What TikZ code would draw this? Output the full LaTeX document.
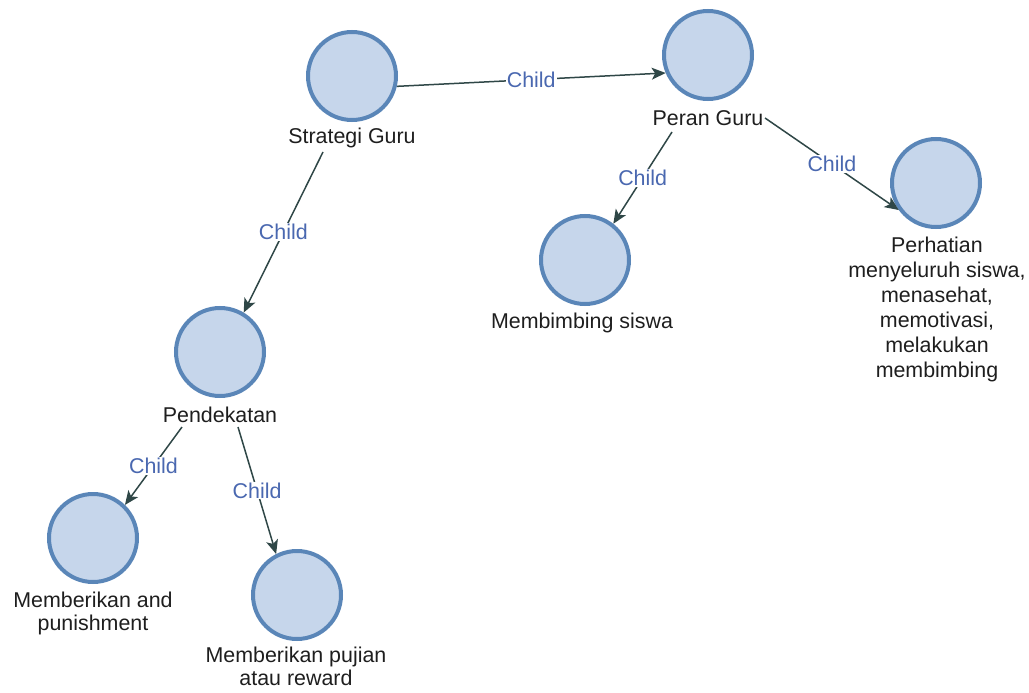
\documentclass[tikz,border=0pt]{standalone}
\usepackage{fontspec}
\setmainfont{Liberation Sans}
\usetikzlibrary{arrows.meta}
\definecolor{cfill}{HTML}{C6D6EB}
\definecolor{cborder}{HTML}{5A86B8}
\definecolor{cline}{HTML}{2F4747}
\definecolor{clabel}{HTML}{4A68B0}
\definecolor{ctext}{HTML}{1E1E1E}
\tikzset{
  topic/.style={circle, draw=cborder, fill=cfill, line width=4pt, minimum size=88pt, inner sep=0pt},
  name1/.style={anchor=base, inner sep=0pt, text=ctext, font=\fontsize{21.4}{23}\selectfont},
  namem/.style={anchor=north, inner sep=0pt, align=center, text=ctext, font=\fontsize{21.4}{23}\selectfont},
  conn/.style={draw=cline, line width=1.5pt, -{Stealth[length=14pt,width=12pt,inset=3.5pt]}},
  lbl/.style={fill=white, inner sep=1pt, text=clabel, font=\fontsize{21.4}{23}\selectfont}
}
\begin{document}
\begin{tikzpicture}[x=1pt,y=-1pt]
\useasboundingbox (0,0) rectangle (1029,693);
% circles
\node[topic] (sg) at (352,76) {};
\node[topic] (pg) at (708,55) {};
\node[topic] (mb) at (585,260) {};
\node[topic] (ph) at (936,183) {};
\node[topic] (pd) at (220,352) {};
\node[topic] (pu) at (93,538) {};
\node[topic] (pj) at (297,595) {};
% names
\node[name1] (sgL) at (352,143) {Strategi Guru};
\node[name1] (pgL) at (708,125) {Peran Guru};
\node[name1] (mbL) at (582,328) {Membimbing siswa};
\node[namem, font=\fontsize{21.4}{25}\selectfont] (phL) at (937,236.5) {Perhatian\\menyeluruh siswa,\\menasehat,\\memotivasi,\\melakukan\\membimbing};
\node[name1] (pdL) at (220,422) {Pendekatan};
\node[namem] (puL) at (93,591.5) {Memberikan and\\punishment};
\node[namem] (pjL) at (296,646.5) {Memberikan pujian\\atau reward};
% connector start points below the names
\coordinate (s2) at (323,152);
\coordinate (s3) at (672,132);
\coordinate (s4) at (765,118);
\coordinate (s5) at (182,427);
\coordinate (s6) at (238,427);
% connectors
\draw[conn] (sg.-13) -- node[lbl] {Child} (pg.203);
\draw[conn] (s2) -- node[lbl] {Child} (pd.59);
\draw[conn] (s3) -- node[lbl] {Child} (mb.52);
\draw[conn] (s4) -- node[lbl] {Child} (ph.216);
\draw[conn] (s5) -- node[lbl] {Child} (pu.46);
\draw[conn] (s6) -- node[lbl] {Child} (pj.117);
\end{tikzpicture}
\end{document}
